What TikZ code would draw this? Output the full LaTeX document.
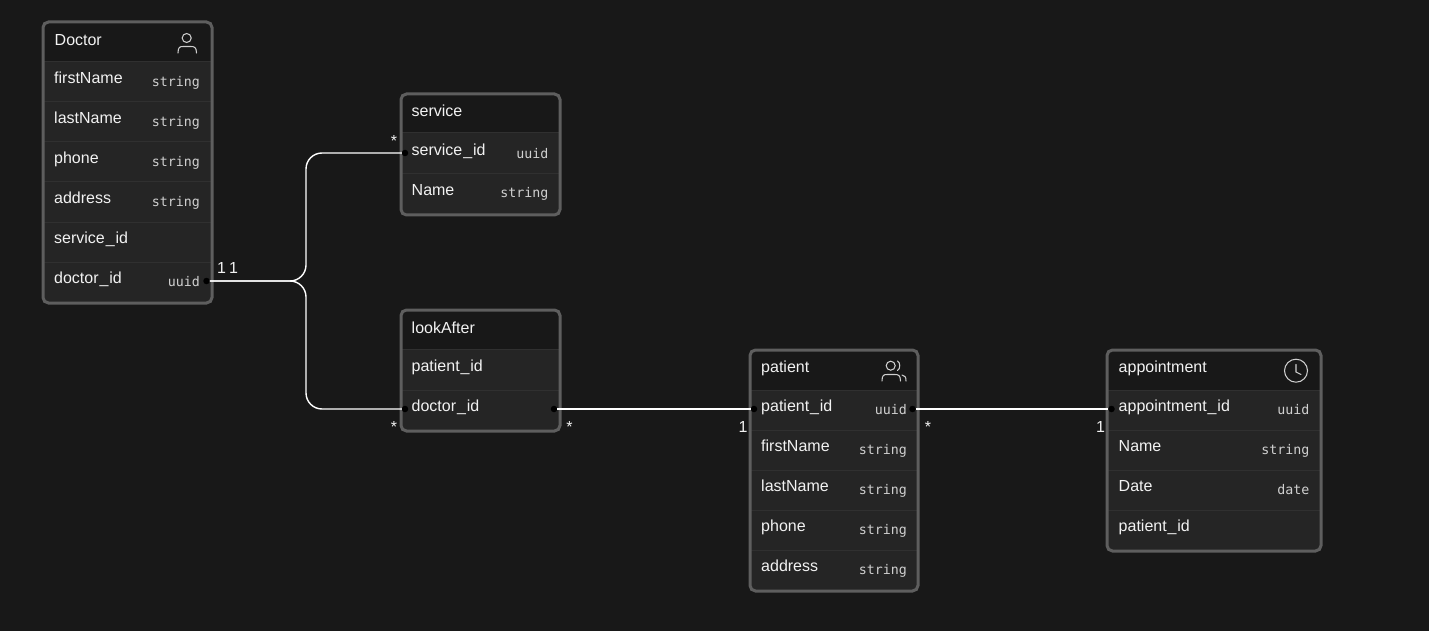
\documentclass[tikz,border=0pt]{standalone}
\usepackage{fontspec}
\setmainfont{Liberation Sans}
\newfontfamily\typefont{DejaVu Sans Mono}
\definecolor{canvas}{HTML}{181818}
\definecolor{rowfill}{HTML}{252525}
\definecolor{rowline}{HTML}{303030}
\definecolor{frame}{HTML}{5E5E5E}
\definecolor{inktext}{HTML}{F2F2F2}
\definecolor{typetext}{HTML}{D0D0D0}
\definecolor{iconink}{HTML}{CFCFCF}
\newcommand{\us}{\kern0.9pt\_\kern0.9pt}
\tikzset{
  rowbox/.style={fill=rowfill,draw=none,inner sep=0pt,outer sep=0pt,anchor=north west},
  rowrule/.style={draw=rowline,line width=1pt},
  framebox/.style={draw=frame,line width=3pt,rounded corners=5.5pt,inner sep=0pt,outer sep=0pt,anchor=north west},
  fieldtext/.style={font=\fontsize{16}{18}\selectfont,text=inktext,anchor=base west,inner sep=0pt},
  typelabel/.style={font=\typefont\fontsize{13.3}{16}\selectfont,text=typetext,anchor=base east,inner sep=0pt},
  cardtext/.style={font=\fontsize{16}{18}\selectfont,text=inktext,anchor=base,inner sep=0pt},
  port/.style={circle,fill=black,draw=none,minimum size=6.5pt,inner sep=0pt,outer sep=0pt},
  link/.style={draw=white,line width=1.4pt},
  iconline/.style={draw=iconink,line width=1.05pt,line cap=round},
}
% #1 name, #2 left, #3 right, #4 top, #5 header bottom, #6 bottom, #7 row rules
\newcommand{\erbox}[7]{%
  \pgfmathsetmacro{\boxw}{#3-#2}%
  \pgfmathsetmacro{\boxh}{#6-#4}%
  \pgfmathsetmacro{\bodyh}{#6-#5}%
  \begin{scope}
    \clip[rounded corners=5.5pt] (#2,#4) rectangle (#3,#6);
    \node[rowbox,minimum width=\boxw pt,minimum height=\bodyh pt] (#1-body) at (#2,#5) {};
    \draw[rowrule] (#2,#5) -- (#3,#5);
    \foreach \rb in {#7} {\draw[rowrule] (#2,\rb) -- (#3,\rb);}
  \end{scope}
  \node[framebox,minimum width=\boxw pt,minimum height=\boxh pt] (#1) at (#2,#4) {};
}
\newcommand{\fld}[4]{\node[fieldtext] (#1) at (#2,#3) {#4};}
\newcommand{\typ}[4]{\node[typelabel] (#1) at (#2,#3) {#4};}
\begin{document}
\begin{tikzpicture}[x=1pt,y=-1pt]
\useasboundingbox[fill=canvas] (0,0) rectangle (1429,631);

% Doctor
\erbox{doctor}{43}{212}{22}{61.5}{303}{102,142,182,222,262}
\fld{dT}{54.5}{46}{Doctor}
\fld{d1}{54}{84}{firstName}\typ{dt1}{200}{87}{string}
\fld{d2}{54}{124}{lastName}\typ{dt2}{200}{127}{string}
\fld{d3}{54}{164}{phone}\typ{dt3}{200}{167}{string}
\fld{d4}{54}{204}{address}\typ{dt4}{200}{207}{string}
\fld{d5}{54}{243.5}{service\us id}
\fld{d6}{54}{283}{doctor\us id}\typ{dt6}{200}{286}{uuid}
\draw[iconline] (186.7,38) circle (4.5);
\draw[iconline] (178,53) .. controls (178,47) and (180,46.5) .. (183,46.5) -- (191,46.5) .. controls (194,46.5) and (196.5,47) .. (196.5,53);

% service
\erbox{service}{401}{560}{94}{133}{215}{174}
\fld{sT}{411.5}{117}{service}
\fld{s1}{411.5}{155.5}{service\us id}\typ{st1}{548.5}{158.5}{uuid}
\fld{s2}{411.5}{195.5}{Name}\typ{st2}{548.5}{198}{string}

% lookAfter
\erbox{look}{401}{560}{310}{349}{431}{390}
\fld{lT}{411.5}{333}{lookAfter}
\fld{l1}{411.5}{371.5}{patient\us id}
\fld{l2}{411.5}{411.5}{doctor\us id}

% patient
\erbox{patient}{750}{918}{350}{390}{591}{430.5,470.5,510.5,550.5}
\fld{pT}{761}{372.5}{patient}
\fld{p1}{761}{411.5}{patient\us id}\typ{pt1}{907}{414.5}{uuid}
\fld{p2}{761}{451}{firstName}\typ{pt2}{907}{454.5}{string}
\fld{p3}{761}{491}{lastName}\typ{pt3}{907}{494.5}{string}
\fld{p4}{761}{531}{phone}\typ{pt4}{907}{534.5}{string}
\fld{p5}{761}{571}{address}\typ{pt5}{907}{574.5}{string}
\draw[iconline] (890.7,365.7) circle (4.5);
\draw[iconline] (882,381) .. controls (882,375) and (884,374.5) .. (887,374.5) -- (895,374.5) .. controls (898,374.5) and (900.5,375) .. (900.5,381);
\draw[iconline] (897.5,361) .. controls (900.5,362.5) and (900.5,369) .. (897.5,370.5);
\draw[iconline] (902,375) .. controls (905,375.5) and (906,377) .. (906,381);

% appointment
\erbox{appt}{1107}{1321}{350}{390}{551}{430.5,470.5,510.5}
\fld{aT}{1118.5}{372.5}{appointment}
\fld{a1}{1118.5}{411.5}{appointment\us id}\typ{at1}{1309.5}{414.5}{uuid}
\fld{a2}{1118.5}{451}{Name}\typ{at2}{1309.5}{454.5}{string}
\fld{a3}{1118.5}{491}{Date}\typ{at3}{1309.5}{494.5}{date}
\fld{a4}{1118.5}{531}{patient\us id}
\draw[iconline] (1296,370.7) circle (11.5);
\draw[iconline] (1296,364.5) -- (1296,372) -- (1301,374.5);

% ports
\node[port] (pDoctor) at (206.5,281) {};
\node[port] (pService) at (405,153) {};
\node[port] (pLookL) at (405,409) {};
\node[port] (pLookR) at (554,409) {};
\node[port] (pPatL) at (754,409) {};
\node[port] (pPatR) at (912.5,409) {};
\node[port] (pAppt) at (1111.5,409) {};
\coordinate (busTop) at (306,153);
\coordinate (busBot) at (306,409);
\coordinate (busMid) at (306,281);

% connectors
\draw[link,rounded corners=16pt] (pDoctor.east) -- (busMid) -- (busTop) -- (pService.west);
\draw[link,rounded corners=16pt] (pDoctor.east) -- (busMid) -- (busBot) -- (pLookL.west);
\draw[link] (pLookR.east) -- (pPatL.west);
\draw[link] (pPatR.east) -- (pAppt.west);

% cardinalities
\node[cardtext] (c1) at (221.5,273) {1};
\node[cardtext] (c2) at (233.5,273) {1};
\node[cardtext] (c3) at (394,146.5) {*};
\node[cardtext] (c4) at (394,432) {*};
\node[cardtext] (c5) at (569.5,432) {*};
\node[cardtext] (c6) at (743,432) {1};
\node[cardtext] (c7) at (928,432) {*};
\node[cardtext] (c8) at (1100.5,432) {1};
\end{tikzpicture}
\end{document}
